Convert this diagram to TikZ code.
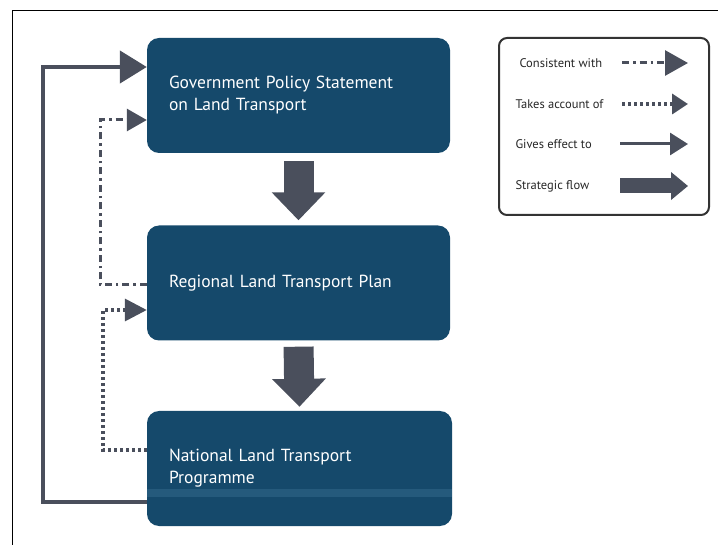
\documentclass[tikz,border=0pt]{standalone}
\usepackage{fontspec}
\setmainfont{PT Sans}
\usetikzlibrary{arrows.meta}

\definecolor{boxblue}{HTML}{15496B}
\definecolor{flowgrey}{HTML}{4A4F5C}
\definecolor{bandblue}{HTML}{3F7596}

\tikzset{
  planbox/.style={fill=boxblue, rounded corners=12pt, text=white, align=left,
    inner xsep=22pt, inner ysep=0pt, minimum height=115pt, font=\fontsize{17.5}{22}\selectfont},
  strategic/.style={flowgrey, line width=30pt, -{Triangle[width=52pt,length=28pt]}},
  gives/.style={flowgrey, line width=4.5pt, -{Triangle[width=32pt,length=27pt]}},
  consistent/.style={flowgrey, line width=3pt, dash pattern=on 7pt off 4pt on 2.5pt off 4pt,
    -{Triangle[width=22pt,length=20pt]}},
  account/.style={flowgrey, line width=3.5pt, dash pattern=on 3pt off 3pt,
    -{Triangle[width=22pt,length=22pt]}},
  keytext/.style={anchor=west, text=black!85, font=\fontsize{12.5}{14}\selectfont}
}

\begin{document}
\begin{tikzpicture}[x=1pt,y=-1pt]
  \useasboundingbox (0,0) rectangle (718,545);
  % frame
  \draw[line width=1pt] (718,11) -- (12,11) -- (12,545);
  % plans
  \node[planbox, text width=259pt] (gps) at (298.5,95.5) {Government Policy Statement\\on Land Transport};
  \node[planbox, text width=259pt] (rltp) at (298.5,283) {Regional Land Transport Plan};
  \node[planbox, text width=261pt] (nltp) at (299.5,468.5) {National Land Transport\\Programme};
  \fill[bandblue, opacity=0.4] (nltp.west |- 0,489) rectangle (nltp.east |- 0,497);
  % strategic flow
  \draw[strategic, shorten <=8pt, shorten >=5pt] (gps.south) -- (rltp.north);
  \draw[strategic, shorten <=6pt, shorten >=4pt] (rltp.south) -- (nltp.north);
  % gives effect to
  \draw[gives] (nltp.west |- 0,502) -| (43,67) -- (gps.west |- 0,67);
  % consistent with
  \draw[consistent] (rltp.west |- 0,285) -| (100,120) -- (gps.west |- 0,120);
  % takes account of
  \draw[account] (nltp.west |- 0,450) -| (103,310) -- (rltp.west |- 0,310);
  % key
  \draw[rounded corners=8pt, line width=2pt, black!80] (499,38) rectangle (709,215);
  \node[keytext] (k1) at (516,63) {Consistent with};
  \node[keytext] (k2) at (512,104) {Takes account of};
  \node[keytext] (k3) at (512,144) {Gives effect to};
  \node[keytext] (k4) at (512,186) {Strategic flow};
  \coordinate (e1) at (688,63);
  \coordinate (e2) at (688,104);
  \coordinate (e3) at (688,144);
  \coordinate (e4) at (688,186);
  \draw[consistent, -{Triangle[width=25pt,length=23pt]}] (622,63) -- (e1);
  \draw[account, -{Triangle[width=20pt,length=16pt]}] (622,104) -- (e2);
  \draw[gives, line width=3pt, -{Triangle[width=22pt,length=18pt]}] (620,144) -- (e3);
  \draw[strategic, line width=15pt, -{Triangle[width=27pt,length=17pt]}] (620,186) -- (e4);
\end{tikzpicture}
\end{document}
